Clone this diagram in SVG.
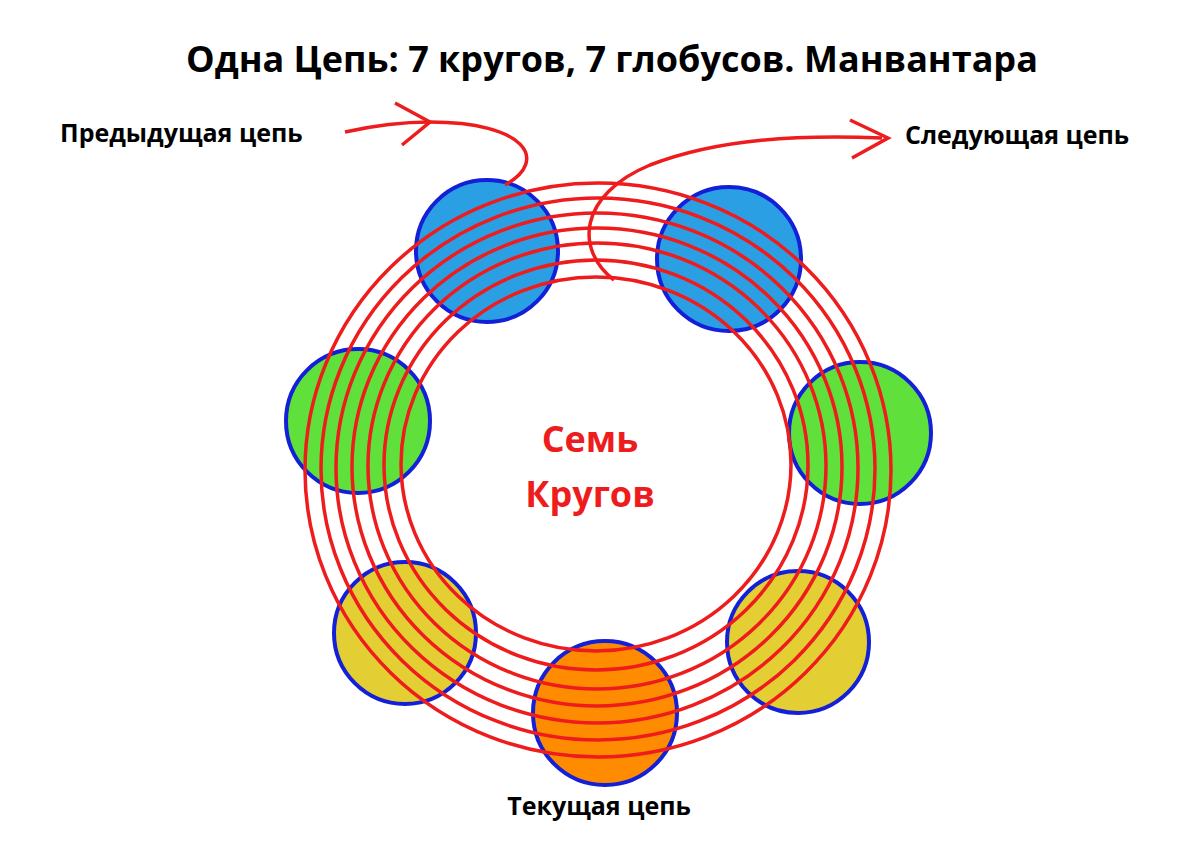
<svg xmlns="http://www.w3.org/2000/svg" width="1200" height="845" viewBox="0 0 1200 845">
<style>
.t{font-family:"Open Sans","Liberation Sans",sans-serif;font-weight:bold;fill:#000}
.g{stroke:#1420d8;stroke-width:4}
.r{fill:none;stroke:#ee1c1c;stroke-width:3.5}
</style>
<rect width="1200" height="845" fill="#fff"/>
<text class="t" x="612" y="72" font-size="36" text-anchor="middle">Одна Цепь: 7 кругов, 7 глобусов. Манвантара</text>
<text class="t" x="60" y="142" font-size="25">Предыдущая цепь</text>
<text class="t" x="905" y="144" font-size="25">Следующая цепь</text>
<text class="t" x="599" y="815" font-size="25" text-anchor="middle">Текущая цепь</text>
<g id="globe1"><circle class="g" cx="487" cy="251" r="71" fill="#2b9fe3"/></g>
<g id="globe2"><circle class="g" cx="729" cy="259" r="72" fill="#2b9fe3"/></g>
<g id="globe3"><circle class="g" cx="358" cy="421" r="72" fill="#5fe03a"/></g>
<g id="globe4"><circle class="g" cx="860" cy="433" r="71" fill="#5fe03a"/></g>
<g id="globe5"><circle class="g" cx="405" cy="633" r="71" fill="#e3cf33"/></g>
<g id="globe6"><circle class="g" cx="798" cy="642" r="71" fill="#e3cf33"/></g>
<g id="globe7"><circle class="g" cx="605" cy="713" r="72" fill="#ff8c00"/></g>
<g id="connectors">
<ellipse class="r" cx="598" cy="470" rx="293" ry="287"/>
<ellipse class="r" cx="598" cy="469" rx="277" ry="271"/>
<ellipse class="r" cx="597" cy="468" rx="261" ry="255"/>
<ellipse class="r" cx="597" cy="467" rx="245" ry="239"/>
<ellipse class="r" cx="597" cy="466" rx="229" ry="223"/>
<ellipse class="r" cx="596" cy="465" rx="212" ry="205" stroke-width="3"/>
<ellipse class="r" cx="596" cy="464" rx="195" ry="187" stroke-width="2"/>
<path class="r" d="M345,132 Q390,122 430,122 C525,122 550,160 505,185"/>
<path class="r" d="M395,103 L430,122 L402,145"/>
<path class="r" d="M614,280 C575,250 578,195 650,165 C720,138 800,135 882,138"/>
<path class="r" d="M850,120 L888,138 L852,158"/>
</g>
<text x="590" y="452" font-family="Open Sans,Liberation Sans,sans-serif" font-weight="bold" font-size="36" fill="#ee1c1c" text-anchor="middle">Семь</text>
<text x="590" y="507" font-family="Open Sans,Liberation Sans,sans-serif" font-weight="bold" font-size="36" fill="#ee1c1c" text-anchor="middle">Кругов</text>
</svg>
